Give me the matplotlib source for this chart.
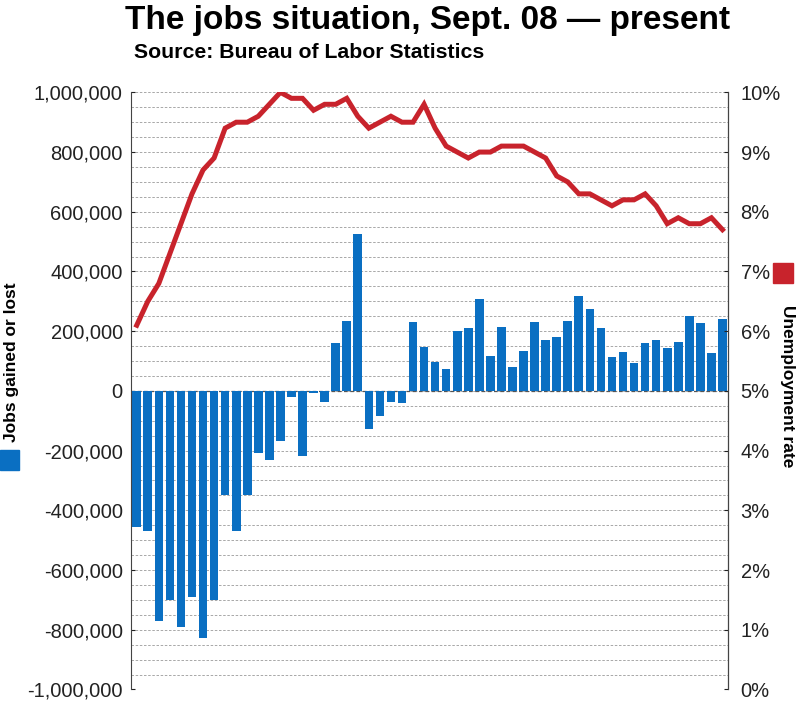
import matplotlib
matplotlib.use("Agg")
import matplotlib.pyplot as plt
import matplotlib.patches as mpatches
from matplotlib.ticker import FuncFormatter
import numpy as np

# monthly data, Sept. 2008 - Feb. 2013
jobs = [-455000, -469000, -769000, -700000, -790000, -691000, -829000, -700000,
        -350000, -469000, -347000, -207000, -231000, -168000, -19000, -218000,
        -8000, -36000, 160000, 235000, 526000, -128000, -83000, -36000,
        -39000, 232000, 148000, 98000, 72000, 202000, 210000, 307000,
        118000, 215000, 81000, 135000, 230000, 171000, 179000, 235000,
        317000, 274000, 212000, 115000, 130000, 93000, 160000, 170000,
        143000, 165000, 252000, 227000, 126000, 241000]
unemployment = [6.1, 6.5, 6.8, 7.3, 7.8, 8.3, 8.7, 8.9, 9.4, 9.5, 9.5, 9.6,
                9.8, 10.0, 9.9, 9.9, 9.7, 9.8, 9.8, 9.9, 9.6, 9.4, 9.5, 9.6,
                9.5, 9.5, 9.8, 9.4, 9.1, 9.0, 8.9, 9.0, 9.0, 9.1, 9.1, 9.1,
                9.0, 8.9, 8.6, 8.5, 8.3, 8.3, 8.2, 8.1, 8.2, 8.2, 8.3, 8.1,
                7.8, 7.9, 7.8, 7.8, 7.9, 7.7]
left_ticks = [-1000000, -800000, -600000, -400000, -200000, 0,
              200000, 400000, 600000, 800000, 1000000]
right_ticks = [0, 1, 2, 3, 4, 5, 6, 7, 8, 9, 10]

blue = "#0a6fc2"
red = "#c8232c"
bold_font = ["Liberation Sans", "DejaVu Sans"]
plt.rcParams['font.family'] = ["Liberation Sans", "DejaVu Sans"]

fig = plt.figure(figsize=(8, 7.05), dpi=100)
ax = fig.add_axes([0.164, 0.022, 0.746, 0.847])
x = np.arange(len(jobs))

for yv in range(-1000000, 1000001, 50000):
    ax.axhline(yv, color="#9a9a9a", lw=0.6, ls=(0, (3, 2)), zorder=0)
ax.axhline(0, color="#555555", lw=0.9, ls=(0, (3, 2)), zorder=0)

ax.bar(x, jobs, width=0.78, color=blue, zorder=2)
ax.set_xlim(-0.5, len(jobs) - 0.5)
ax.set_ylim(-1000000, 1000000)
ax.set_yticks(left_ticks)
ax.yaxis.set_major_formatter(FuncFormatter(lambda v, p: f"{int(v):,}"))
ax.set_xticks([])
ax.tick_params(axis="y", length=3, direction="in", labelsize=14.5, pad=6, colors="#222222")
for s in ["top", "bottom"]:
    ax.spines[s].set_visible(False)
ax.spines["left"].set_color("#444444")

ax2 = ax.twinx()
ax2.plot(x, unemployment, color=red, lw=3.6, solid_joinstyle="miter", zorder=3)
ax2.set_ylim(0, 10)
ax2.set_yticks(right_ticks)
ax2.yaxis.set_major_formatter(FuncFormatter(lambda v, p: f"{int(v)}%"))
ax2.tick_params(axis="y", length=3, direction="in", labelsize=14.5, pad=9, colors="#222222")
for s in ["top", "bottom", "left"]:
    ax2.spines[s].set_visible(False)
ax2.spines["right"].set_color("#444444")

fig.text(0.535, 0.971, "The jobs situation, Sept. 08 \u2014 present", ha="center", va="center",
         fontsize=24, fontweight="bold", family=bold_font)
fig.text(0.168, 0.926, "Source: Bureau of Labor Statistics", ha="left", va="center",
         fontsize=15.3, fontweight="bold", family=bold_font)

fig.text(0.015, 0.486, "Jobs gained or lost", rotation=90, ha="center", va="center",
         fontsize=12.5, fontweight="bold", family=bold_font)
fig.patches.append(mpatches.Rectangle((0.0, 0.333), 0.024, 0.028, color=blue,
                                      transform=fig.transFigure, figure=fig))
fig.text(0.985, 0.452, "Unemployment rate", rotation=-90, ha="center", va="center",
         fontsize=12.5, fontweight="bold", family=bold_font)
fig.patches.append(mpatches.Rectangle((0.966, 0.599), 0.025, 0.028, color=red,
                                      transform=fig.transFigure, figure=fig))

fig.savefig("out.png", dpi=100)
